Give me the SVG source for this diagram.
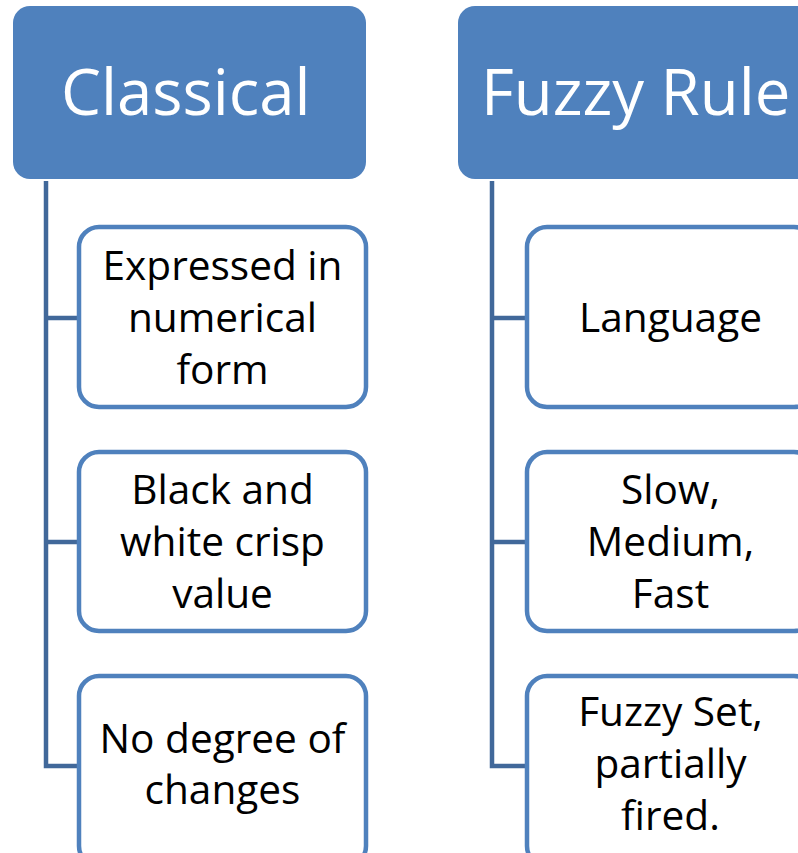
<svg xmlns="http://www.w3.org/2000/svg" width="798" height="853" viewBox="0 0 798 853">
<style>
.hdr{fill:#4F81BD;}
.hdrt{font-family:"Open Sans","Liberation Sans",sans-serif;font-size:63.5px;fill:#fff;}
.box{fill:#fff;stroke:#4F81BD;stroke-width:4.5;}
.t{font-family:"Open Sans","Liberation Sans",sans-serif;font-size:40.6px;fill:#000;text-anchor:middle;}
.con{fill:none;stroke:#41689A;stroke-width:4.5;}
</style>
<rect width="798" height="853" fill="#fff"/>
<g id="connectors">
<path class="con" d="M46 181 V766 H79 M46 318 H79 M46 542 H79"/>
<path class="con" d="M492 181 V766 H527 M492 318 H527 M492 542 H527"/>
</g>
<g id="classical">
<rect class="hdr" x="13" y="6" width="353" height="173" rx="17"/>
<text class="hdrt" x="61" y="115">Classical</text>
</g>
<g id="fuzzy-rule">
<rect class="hdr" x="458" y="6" width="355" height="173" rx="17"/>
<text class="hdrt" x="481" y="115">Fuzzy Rule</text>
</g>
<g id="c1">
<rect class="box" x="79" y="227" width="287" height="180" rx="20"/>
<text class="t" x="222.5" y="280">Expressed in</text>
<text class="t" x="222.5" y="332">numerical</text>
<text class="t" x="222.5" y="384">form</text>
</g>
<g id="c2">
<rect class="box" x="79" y="452" width="287" height="179" rx="20"/>
<text class="t" x="222.5" y="504">Black and</text>
<text class="t" x="222.5" y="556">white crisp</text>
<text class="t" x="222.5" y="608">value</text>
</g>
<g id="c3">
<rect class="box" x="79" y="676" width="287" height="190" rx="20"/>
<text class="t" x="222.5" y="753">No degree of</text>
<text class="t" x="222.5" y="804">changes</text>
</g>
<g id="f1">
<rect class="box" x="527" y="227" width="287" height="180" rx="20"/>
<text class="t" x="670.5" y="332">Language</text>
</g>
<g id="f2">
<rect class="box" x="527" y="452" width="287" height="179" rx="20"/>
<text class="t" x="670.5" y="504">Slow,</text>
<text class="t" x="670.5" y="556">Medium,</text>
<text class="t" x="670.5" y="608">Fast</text>
</g>
<g id="f3">
<rect class="box" x="527" y="676" width="287" height="190" rx="20"/>
<text class="t" x="670.5" y="726">Fuzzy Set,</text>
<text class="t" x="670.5" y="778">partially</text>
<text class="t" x="670.5" y="830">fired.</text>
</g>
</svg>
